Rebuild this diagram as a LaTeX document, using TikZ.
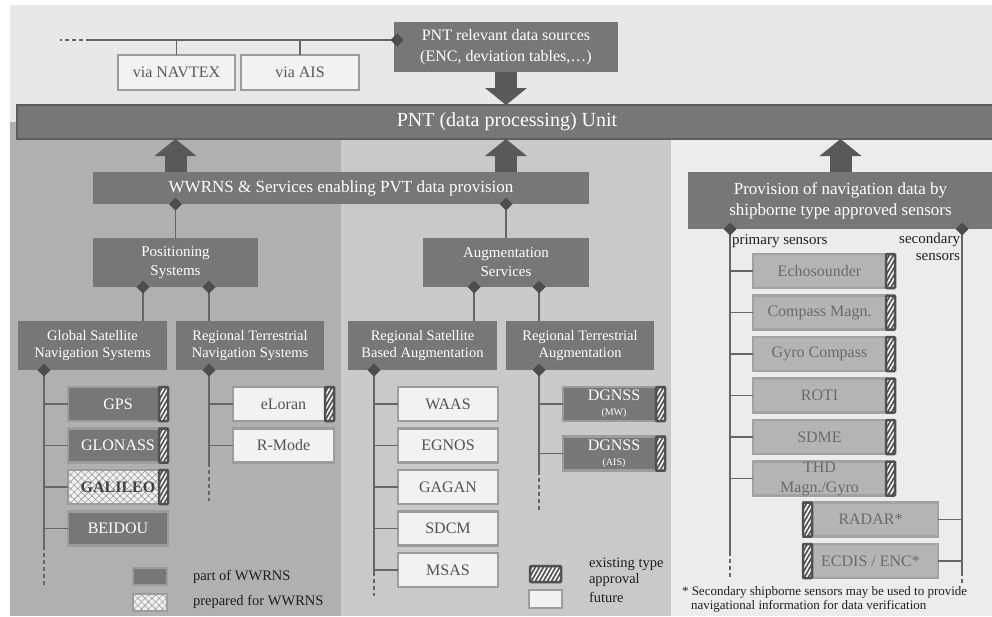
\documentclass[tikz,border=0pt]{standalone}
\usepackage{fontspec}
\setmainfont{Liberation Serif}
\usetikzlibrary{positioning, calc, arrows.meta, patterns.meta}

\definecolor{topbg}{HTML}{E8E8E8}
\definecolor{leftbg}{HTML}{B0B0B0}
\definecolor{midbg}{HTML}{C9C9C9}
\definecolor{rightbg}{HTML}{ECECEC}
\definecolor{boxgray}{HTML}{777777}
\definecolor{bargray}{HTML}{5E5E5E}
\definecolor{arrgray}{HTML}{595959}
\definecolor{dgray}{HTML}{4D4D4D}
\definecolor{linegray}{HTML}{666666}
\definecolor{rimgray}{HTML}{9C9C9C}
\definecolor{futfill}{HTML}{F2F2F2}
\definecolor{sensfill}{HTML}{B4B4B4}
\definecolor{sensrim}{HTML}{A2A2A2}
\definecolor{senstext}{HTML}{6A6A6A}
\definecolor{stripgray}{HTML}{505050}

\newcommand{\fsz}[2]{\fontsize{#1pt}{#2pt}\selectfont}

\begin{document}
\begin{tikzpicture}[x=1pt, y=-1pt,
  every node/.style={inner sep=0pt, outer sep=0pt},
  node distance=7.5pt,
  catbox/.style={fill=boxgray, text=white, align=center, font=\fsz{15}{19}},
  subbox/.style={catbox, minimum width=149pt, minimum height=49pt, font=\fsz{14.5}{17.5}},
  item/.style={minimum width=100pt, minimum height=34pt, line width=2.5pt, align=center, font=\fsz{16}{18}},
  wwrnsitem/.style={item, fill=boxgray, draw=rimgray, text=white},
  futureitem/.style={item, fill=futfill, draw=rimgray, text=black!68},
  prepitem/.style={item, preaction={fill=futfill}, pattern={Hatch[angle=45,distance=5pt,line width=0.6pt]}, pattern color=black!40, draw=rimgray, text=black!75, font=\fsz{16}{18}\bfseries},
  sensor/.style={item, minimum width=133pt, fill=sensfill, draw=sensrim, text=senstext},
  tastrip/.style={preaction={fill=stripgray}, pattern={Lines[angle=60,distance=3.5pt,line width=1.6pt]}, pattern color=white, draw=stripgray, line width=2.5pt, rounded corners=1pt},
  conn/.style={draw=linegray, line width=1.2pt},
  tail/.style={conn, dash pattern=on 4pt off 3pt},
  fat/.style={draw=arrgray, line width=22pt, -{Triangle[width=42pt 0 0, length=17pt 0 0, line width=0pt 0 0]}},
  note/.style={text=black!88, font=\fsz{15}{17}},
]
\useasboundingbox (0,0) rectangle (992,616);

% background areas
\fill[topbg] (10,5) rectangle (992,122);
\fill[leftbg] (10,122) rectangle (341,616);
\fill[midbg] (341,122) rectangle (671,616);
\fill[rightbg] (671,122) rectangle (992,616);

% data sources
\node[catbox, minimum width=224pt, minimum height=50pt, font=\fsz{16}{21}] (src) at (506,47) {PNT relevant data sources\\(ENC, deviation tables,…)};
\node[futureitem, minimum width=117pt, minimum height=35pt, text=black!65] (navtex) at (176.5,72.5) {via NAVTEX};
\node[futureitem, minimum width=118pt, minimum height=35pt, text=black!65, right=6pt of navtex] (ais) {via AIS};

% PNT unit
\node[catbox, draw=bargray, line width=2.5pt, minimum width=980pt, minimum height=34pt, font=\fsz{20}{24}] (pnt) at (507,122) {PNT (data processing) Unit};

% WWRNS tree
\node[catbox, minimum width=496pt, minimum height=32pt, font=\fsz{17}{20}] (wwrns) at (341,188) {WWRNS \& Services enabling PVT data provision};
\node[catbox, minimum width=165pt, minimum height=49pt] (ps) at (175.5,262.5) {Positioning\\Systems};
\node[catbox, minimum width=166pt, minimum height=49pt] (aug) at (506,262.5) {Augmentation\\Services};
\node[subbox] (gnss) at (92.5,345.5) {Global Satellite\\Navigation Systems};
\node[subbox, minimum width=148pt] (rtn) at (250,345.5) {Regional Terrestrial\\Navigation Systems};
\node[subbox] (rsba) at (422.5,345.5) {Regional Satellite\\Based Augmentation};
\node[subbox, minimum width=148pt] (rta) at (580,345.5) {Regional Terrestrial\\Augmentation};

\node[wwrnsitem] (gps) at (118,404) {GPS};
\node[wwrnsitem, below=of gps] (glonass) {GLONASS};
\node[prepitem, below=of glonass] (galileo) {GALILEO};
\node[wwrnsitem, below=of galileo] (beidou) {BEIDOU};

\node[futureitem, minimum width=101pt] (eloran) at (283.5,404) {eLoran};
\node[futureitem, minimum width=101pt, below=of eloran] (rmode) {R-Mode};

\node[futureitem] (waas) at (448,404) {WAAS};
\node[futureitem, below=of waas] (egnos) {EGNOS};
\node[futureitem, below=of egnos] (gagan) {GAGAN};
\node[futureitem, below=of gagan] (sdcm) {SDCM};
\node[futureitem, below=of sdcm] (msas) {MSAS};

\node[wwrnsitem, minimum width=102pt, font=\fsz{16}{15}] (dgnssmw) at (614,404) {DGNSS\\{\fsz{10}{12}(MW)}};
\node[wwrnsitem, minimum width=102pt, font=\fsz{16}{15}, below=15.5pt of dgnssmw] (dgnssais) {DGNSS\\{\fsz{10}{12}(AIS)}};

% shipborne sensors
\node[catbox, minimum width=305pt, minimum height=57pt, font=\fsz{17}{21}] (prov) at (840.5,200.5) {Provision of navigation data by\\shipborne type approved sensors};
\node[sensor] (echo) at (819.5,271) {Echosounder};
\node[sensor, below=of echo] (compass) {Compass Magn.};
\node[sensor, below=of compass] (gyro) {Gyro Compass};
\node[sensor, below=of gyro] (roti) {ROTI};
\node[sensor, below=of roti] (sdme) {SDME};
\node[sensor, below=of sdme, font=\fsz{16}{20}] (thd) {THD\\Magn./Gyro};
\node[sensor, minimum width=135pt] (radar) at (870.5,519.5) {RADAR*};
\node[sensor, minimum width=135pt, below=of radar] (ecdis) {ECDIS / ENC*};

\node[note, anchor=north west] (prim) at (732,235) {primary sensors};
\node[note, anchor=north east, align=right] (sec) at (960,233) {secondary\\sensors};
\node[anchor=north west, align=left, text=black!88, font=\fsz{13}{14.5}] (fn) at (682,586) {* Secondary shipborne sensors may be used to provide\\\hspace*{9pt}navigational information for data verification};

% legends
\node[wwrnsitem, minimum width=34pt, minimum height=17pt, line width=2pt] (lgpart) at (150,576.5) {};
\node[prepitem, minimum width=34pt, minimum height=17pt, line width=2pt] (lgprep) at (150,602) {};
\node[note, anchor=west, font=\fsz{14.5}{16}] (lgparttxt) at (193,576.5) {part of WWRNS};
\node[note, anchor=west, font=\fsz{14.5}{16}] (lgpreptxt) at (193,602) {prepared for WWRNS};
\node[tastrip, minimum width=31pt, minimum height=16pt] (lgexist) at (545.5,574) {};
\node[futureitem, minimum width=33pt, minimum height=18pt, line width=2pt] (lgfut) at (545.5,598.5) {};
\node[note, anchor=west, align=left, font=\fsz{14.5}{16}] (lgexisttxt) at (589,572) {existing type\\approval};
\node[note, anchor=west, font=\fsz{14.5}{16}] (lgfuttxt) at (589,597) {future};

% big arrows
\draw[fat] (src.south) -- (src.south |- pnt.north);
\draw[fat] (ps.north |- wwrns.north) -- (ps.north |- pnt.south);
\draw[fat] (aug.north |- wwrns.north) -- (aug.north |- pnt.south);
\draw[fat] (prov.north) -- (prov.north |- pnt.south);

% diamond points
\coordinate (srcd) at ($(src.west)+(3,-7)$);
\coordinate (wd1) at (ps.north |- wwrns.south);
\coordinate (wd2) at (aug.north |- wwrns.south);
\coordinate (pd1) at ($(ps.south)+(-32.5,0)$);
\coordinate (pd2) at ($(ps.south)+(33.5,0)$);
\coordinate (ad1) at ($(aug.south)+(-32,0)$);
\coordinate (ad2) at ($(aug.south)+(33,0)$);
\coordinate (gd) at ($(gnss.south west)+(26,0)$);
\coordinate (rd) at (pd2 |- rtn.south);
\coordinate (sd) at ($(rsba.south west)+(26,0)$);
\coordinate (td) at (ad2 |- rta.south);
\coordinate (prd) at ($(prov.south west)+(42,0)$);
\coordinate (scd) at ($(prov.south west)+(274,0)$);
\coordinate (feed) at (60,40);

% connectors
\draw[conn] (srcd) -- ($(feed)+(30,0)$);
\draw[tail] ($(feed)+(30,0)$) -- (feed);
\draw[conn] (navtex.north) -- (navtex.north |- srcd);
\draw[conn] (ais.north) -- (ais.north |- srcd);
\draw[conn] (wd1) -- (ps.north);
\draw[conn] (wd2) -- (aug.north);
\draw[conn] (pd1) -- (pd1 |- gnss.north);
\draw[conn] (pd2) -- (pd2 |- rtn.north);
\draw[conn] (ad1) -- (ad1 |- rsba.north);
\draw[conn] (ad2) -- (ad2 |- rta.north);

\draw[conn] (gd) -- (gd |- beidou.south);
\draw[tail] (gd |- beidou.south) -- ++(0,40);
\draw[conn] (rd) -- (rd |- rmode.south);
\draw[tail] (rd |- rmode.south) -- ++(0,38);
\draw[conn] (sd) -- ($(sd |- msas)+(0,2)$);
\draw[tail] ($(sd |- msas)+(0,2)$) -- ++(0,24);
\draw[conn] (td) -- (td |- dgnssais.south);
\draw[tail] (td |- dgnssais.south) -- ++(0,42);
\draw[conn] (prd) -- ($(prd |- ecdis.north)+(0,8)$);
\draw[tail] ($(prd |- ecdis.north)+(0,8)$) -- (prd |- ecdis.south);
\draw[conn] (scd) -- ($(scd |- ecdis.south)+(0,-6)$);
\draw[tail] ($(scd |- ecdis.south)+(0,-6)$) -- ++(0,12);

\foreach \n in {gps,glonass,galileo,beidou} \draw[conn] (\n.west) -- (\n.west -| gd);
\foreach \n in {eloran,rmode} \draw[conn] (\n.west) -- (\n.west -| rd);
\foreach \n in {waas,egnos,gagan,sdcm,msas} \draw[conn] (\n.west) -- (\n.west -| sd);
\foreach \n in {dgnssmw,dgnssais} \draw[conn] (\n.west) -- (\n.west -| td);
\foreach \n in {echo,compass,gyro,roti,sdme,thd} \draw[conn] (\n.west) -- (\n.west -| prd);
\foreach \n in {radar,ecdis} \draw[conn] (\n.east) -- (\n.east -| scd);

% type approval strips
\foreach \n in {gps,glonass,galileo,eloran,dgnssmw,dgnssais}
  \path[tastrip] ($(\n.north east)+(-9,0)$) rectangle (\n.south east);
\foreach \n in {echo,compass,gyro,roti,sdme,thd}
  \path[tastrip] (\n.north east) rectangle ($(\n.south east)+(9,0)$);
\foreach \n in {radar,ecdis}
  \path[tastrip] (\n.north west) rectangle ($(\n.south west)+(9,0)$);

% diamonds
\foreach \c in {srcd,wd1,wd2,pd1,pd2,ad1,ad2,gd,rd,sd,td,prd,scd}
  \fill[dgray] (\c) +(-6.5,0) -- +(0,-6.5) -- +(6.5,0) -- +(0,6.5) -- cycle;
\end{tikzpicture}
\end{document}
